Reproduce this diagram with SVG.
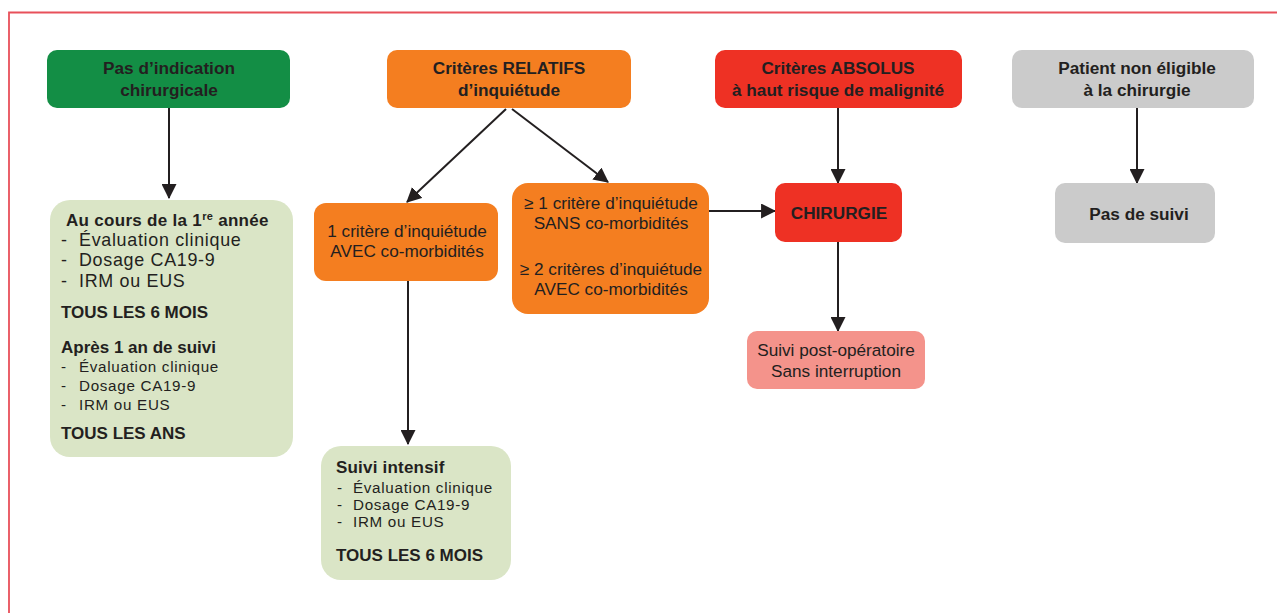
<svg xmlns="http://www.w3.org/2000/svg" width="1277" height="613" viewBox="0 0 1277 613">
<defs>
<marker id="ah" viewBox="0 0 14 14" refX="13" refY="7" markerWidth="15" markerHeight="15" markerUnits="userSpaceOnUse" orient="auto">
<path d="M0,0 L14,7 L0,14 Z" fill="#231f20"/>
</marker>
<style>
text{font-family:"Liberation Sans",Arial,sans-serif;fill:#231f20}
.c{text-anchor:middle}
.t{font-size:17.2px;font-weight:bold}
.r{font-size:17.2px}
.l1{font-size:17.9px;letter-spacing:0.7px}
.l2{font-size:15.2px;letter-spacing:0.7px}
.h{font-size:17px;font-weight:bold}
.conn{stroke:#231f20;stroke-width:2;fill:none;marker-end:url(#ah)}
</style>
</defs>
<rect width="1277" height="613" fill="#ffffff"/>
<path d="M9,613 L9,12.5 L1277,12.5" fill="none" stroke="#e8505a" stroke-width="1.8"/>

<g id="connectors">
<line class="conn" x1="169" y1="108" x2="169" y2="198"/>
<line class="conn" x1="506" y1="109" x2="407" y2="202"/>
<line class="conn" x1="512" y1="109" x2="608" y2="182"/>
<line class="conn" x1="408" y1="281" x2="408" y2="444"/>
<line class="conn" x1="709" y1="211" x2="775" y2="211"/>
<line class="conn" x1="838" y1="108" x2="838" y2="183"/>
<line class="conn" x1="838" y1="242" x2="838" y2="331"/>
<line class="conn" x1="1137" y1="108" x2="1137" y2="183"/>
</g>

<g id="n-pas-indication">
<rect x="47" y="50" width="243" height="58" rx="10" fill="#138e45"/>
<text class="t c"><tspan x="169" y="74">Pas d’indication</tspan><tspan x="169" y="96">chirurgicale</tspan></text>
</g>

<g id="n-relatifs">
<rect x="387" y="50" width="244" height="58" rx="10" fill="#f47e20"/>
<text class="t c"><tspan x="509" y="74">Critères RELATIFS</tspan><tspan x="509" y="96">d’inquiétude</tspan></text>
</g>

<g id="n-absolus">
<rect x="715" y="50" width="247" height="58" rx="10" fill="#ee3124"/>
<text class="t c"><tspan x="838" y="74">Critères ABSOLUS</tspan><tspan x="838" y="96">à haut risque de malignité</tspan></text>
</g>

<g id="n-non-eligible">
<rect x="1012" y="50" width="242" height="58" rx="10" fill="#cbcbcb"/>
<text class="t c"><tspan x="1137" y="74">Patient non éligible</tspan><tspan x="1137" y="96">à la chirurgie</tspan></text>
</g>

<g id="n-suivi-annuel">
<rect x="50" y="200" width="243" height="257" rx="20" fill="#dae5c6"/>
<text class="h" x="66" y="226" letter-spacing="0.3">Au cours de la 1<tspan font-size="11" dy="-6">re</tspan><tspan dy="6"> année</tspan></text>
<text class="l1"><tspan x="61" y="246">-</tspan><tspan x="79" y="246">Évaluation clinique</tspan><tspan x="61" y="266">-</tspan><tspan x="79" y="266">Dosage CA19-9</tspan><tspan x="61" y="287">-</tspan><tspan x="79" y="287">IRM ou EUS</tspan></text>
<text class="h" x="61" y="318">TOUS LES 6 MOIS</text>
<text class="h" x="61" y="353">Après 1 an de suivi</text>
<text class="l2"><tspan x="61" y="372">-</tspan><tspan x="79" y="372">Évaluation clinique</tspan><tspan x="61" y="391">-</tspan><tspan x="79" y="391">Dosage CA19-9</tspan><tspan x="61" y="410">-</tspan><tspan x="79" y="410">IRM ou EUS</tspan></text>
<text class="h" x="61" y="439" font-size="16">TOUS LES ANS</text>
</g>

<g id="n-un-critere">
<rect x="314" y="203" width="184" height="78" rx="12" fill="#f47e20"/>
<text class="r c"><tspan x="407" y="237">1 critère d’inquiétude</tspan><tspan x="407" y="257">AVEC co-morbidités</tspan></text>
</g>

<g id="n-plus-criteres">
<rect x="512" y="183" width="197" height="131" rx="16" fill="#f47e20"/>
<text class="r c"><tspan x="611" y="209">≥ 1 critère d’inquiétude</tspan><tspan x="611" y="229">SANS co-morbidités</tspan></text>
<text class="r c"><tspan x="611" y="275">≥ 2 critères d’inquiétude</tspan><tspan x="611" y="295">AVEC co-morbidités</tspan></text>
</g>

<g id="n-chirurgie">
<rect x="775" y="183" width="127" height="59" rx="10" fill="#ee3124"/>
<text class="t c" x="839" y="219">CHIRURGIE</text>
</g>

<g id="n-pas-suivi">
<rect x="1055" y="183" width="160" height="60" rx="10" fill="#cbcbcb"/>
<text class="t c" x="1139" y="220" font-size="17.5">Pas de suivi</text>
</g>

<g id="n-post-op">
<rect x="747" y="331" width="178" height="58" rx="10" fill="#f4938b"/>
<text class="r c" font-size="16.8"><tspan x="836" y="356">Suivi post-opératoire</tspan><tspan x="836" y="377">Sans interruption</tspan></text>
</g>

<g id="n-suivi-intensif">
<rect x="321" y="446" width="190" height="134" rx="20" fill="#dae5c6"/>
<text class="h" x="336" y="473" font-size="17.8" letter-spacing="0.2">Suivi intensif</text>
<text class="l2"><tspan x="337" y="493">-</tspan><tspan x="353" y="493">Évaluation clinique</tspan><tspan x="337" y="510">-</tspan><tspan x="353" y="510">Dosage CA19-9</tspan><tspan x="337" y="527">-</tspan><tspan x="353" y="527">IRM ou EUS</tspan></text>
<text class="h" x="336" y="561">TOUS LES 6 MOIS</text>
</g>
</svg>
